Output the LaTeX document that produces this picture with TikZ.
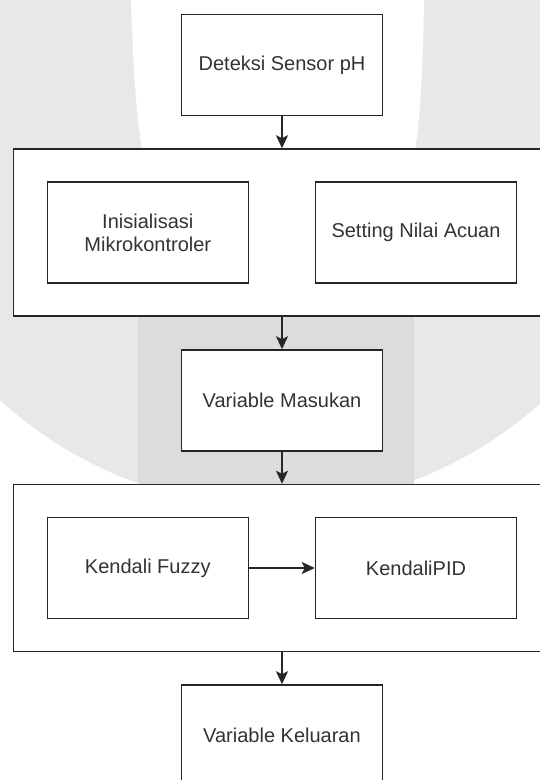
\documentclass[tikz,border=0pt]{standalone}
\usepackage{fontspec}
\setmainfont{Liberation Sans}
\usepackage{tikz}
\usepackage{xcolor}
\usetikzlibrary{arrows.meta}

\definecolor{wmlight}{HTML}{E8E8E8}
\definecolor{wmdark}{HTML}{DCDCDC}
\definecolor{linegray}{HTML}{262626}
\definecolor{textgray}{HTML}{333333}

\begin{document}
\begin{tikzpicture}[x=1pt, y=-1pt,
    block/.style={draw=linegray, line width=1.5pt, fill=white, minimum width=201pt, minimum height=101pt, inner sep=0pt, align=center, text=textgray, font=\fontsize{20}{23}\selectfont},
    frame/.style={draw=linegray, line width=1.5pt, fill=white, minimum width=537pt, minimum height=167pt, inner sep=0pt},
    flow/.style={draw=linegray, line width=1.5pt, -{Stealth[length=13pt, width=12pt, inset=3pt]}}]
    \useasboundingbox (0,0) rectangle (539,780);

    % Watermark in the background
    \fill[white] (0,0) rectangle (539,780);
    \fill[wmlight] (272,104) circle[radius=402pt];
    \fill[white] (131,0) .. controls (133,70) and (137,120) .. (142,150) -- (415,150) .. controls (420,120) and (423,70) .. (424,0) -- cycle;
    \fill[wmdark] (138,300) rectangle (414,484);

    % Stage boxes
    \node[block] (detect) at (282,65) {Deteksi Sensor pH};
    \node[frame] (setup) at (282,232.5) {};
    \node[block] (init) at (147.8,232.5) {Inisialisasi\\Mikrokontroler};
    \node[block] (refval) at (416,232.5) {Setting Nilai Acuan};
    \node[block] (input) at (282,400.5) {Variable Masukan};
    \node[frame] (control) at (282,568) {};
    \node[block] (fuzzy) at (147.8,568) {Kendali Fuzzy};
    \node[block] (pid) at (416,568) {KendaliPID};
    \node[block] (output) at (282,735.5) {Variable Keluaran};

    % Flow between stages
    \draw[flow] (detect) -- (setup);
    \draw[flow] (setup) -- (input);
    \draw[flow] (input) -- (control);
    \draw[flow] (fuzzy) -- (pid);
    \draw[flow] (control) -- (output);
\end{tikzpicture}
\end{document}
